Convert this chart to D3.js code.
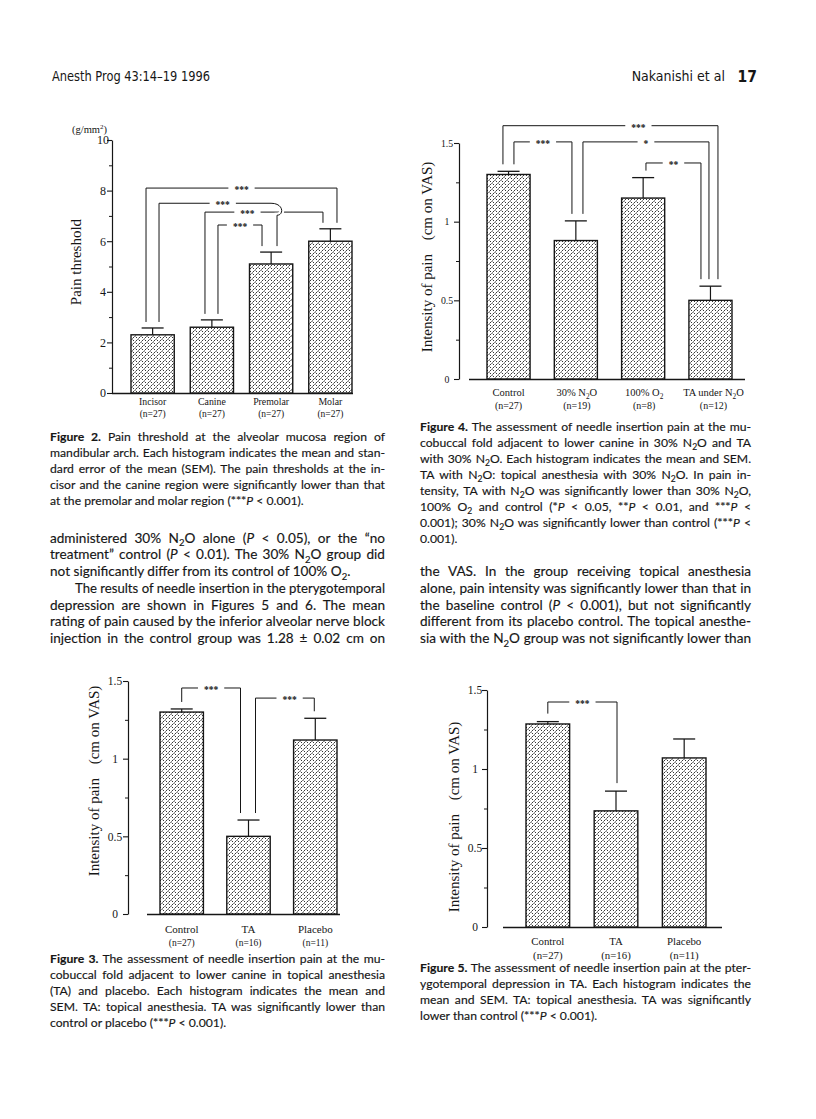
<!DOCTYPE html>
<html><head><meta charset="utf-8">
<script src="https://cdn.jsdelivr.net/npm/d3@7"></script>
<style>body{margin:0;background:#fff}svg{display:block}</style>
</head><body>
<svg id="page" width="816" height="1119"></svg>
<script>
// ---------------- DATA ----------------
const fig2Categories = ["Incisor", "Canine", "Premolar", "Molar"];
const fig2N = ["(n=27)", "(n=27)", "(n=27)", "(n=27)"];
const fig2Means = [2.3, 2.6, 5.1, 6.0];
const fig2Sems = [0.27, 0.29, 0.47, 0.49];
const fig2Ticks = [0, 2, 4, 6, 8, 10];
const fig2MinorTicks = [1, 3, 5, 7, 9];
const fig2Brackets = [
  {from: 0, to: 3, level: 8.1, label: "***"},
  {from: 1, to: 3, level: 7.15, label: "***"},
  {from: 1, to: 2, level: 6.64, label: "***"},
  {from: 0, to: 2, level: 7.5, label: "***", hop: true}
];

const fig4Categories = ["Control", "30% N_2O", "100% O_2", "TA under N_2O"];
const fig4N = ["(n=27)", "(n=19)", "(n=8)", "(n=12)"];
const fig4Means = [1.30, 0.88, 1.15, 0.50];
const fig4Sems = [0.02, 0.125, 0.13, 0.09];
const fig4Brackets = [
  {from: 0, to: 3, level: 1.61, label: "***"},
  {from: 0, to: 1, level: 1.507, label: "***"},
  {from: 1, to: 3, level: 1.507, label: "*"},
  {from: 2, to: 3, level: 1.373, label: "**"}
];

const fig3Categories = ["Control", "TA", "Placebo"];
const fig3N = ["(n=27)", "(n=16)", "(n=11)"];
const fig3Means = [1.30, 0.50, 1.12];
const fig3Sems = [0.02, 0.105, 0.14];
const fig3Brackets = [
  {from: 0, to: 1, level: 1.455, label: "***"},
  {from: 1, to: 2, level: 1.39, label: "***"}
];

const fig5Categories = ["Control", "TA", "Placebo"];
const fig5N = ["(n=27)", "(n=16)", "(n=11)"];
const fig5Means = [1.285, 0.735, 1.07];
const fig5Sems = [0.015, 0.125, 0.12];
const fig5Brackets = [
  {from: 0, to: 1, level: 1.424, label: "***"}
];

const vasTicks = [0, 0.5, 1, 1.5];
const vasMinorTicks = [0.25, 0.75, 1.25];

// ---------------- STYLE ----------------
const INK = "#161616";
const SERIF = "'Liberation Serif','Times New Roman',serif";
const SANS = "Lato,'Open Sans',sans-serif";
const COND = "'Liberation Sans Narrow','DejaVu Sans Condensed','Liberation Sans',sans-serif";

const svg = d3.select("#page");
svg.append("rect").attr("width", 816).attr("height", 1119).attr("fill", "#fff");
const defs = svg.append("defs");
const pat = defs.append("pattern").attr("id", "hatch").attr("patternUnits", "userSpaceOnUse")
  .attr("width", 6).attr("height", 6);
pat.append("rect").attr("width", 6).attr("height", 6).attr("fill", "#fff");
pat.append("path").attr("d", "M0.4,2.6 L2.6,0.4 M3.4,5.6 L5.6,3.4 M3.6,0.6 L5,2 M0.6,3.6 L2,5")
  .attr("stroke", "#1e1e1e").attr("stroke-width", 0.9).attr("fill", "none");

// rich text: ^bold^, |italic|, _2 subscript
function richText(parent, x, yb, str, font, size) {
  const t = parent.append("text").attr("x", x).attr("y", yb)
    .attr("font-family", font).attr("font-size", size).attr("fill", INK);
  const parts = str.split(/(\^[^\^]+\^|\|[^|]+\||_\d)/).filter(s => s.length);
  let pending = 0;
  const sub = size * 0.28;
  parts.forEach(p => {
    let ts;
    if (p[0] === "^" && p.length > 1) ts = t.append("tspan").attr("font-weight", "bold").text(p.slice(1, -1));
    else if (p[0] === "|" && p.length > 1) ts = t.append("tspan").attr("font-style", "italic").text(p.slice(1, -1));
    else if (/^_\d$/.test(p)) {
      ts = t.append("tspan").attr("font-size", size * 0.7).attr("dy", sub).text(p.slice(1));
      pending = -sub; return;
    } else ts = t.append("tspan").text(p);
    if (pending) { ts.attr("dy", pending); pending = 0; }
  });
  return t;
}

// ---------------- CHARTS ----------------
function drawChart(c) {
  const g = svg.append("g");
  const y = d3.scaleLinear().domain([0, c.yMax]).range([c.yBase, c.yTop]);
  const x = d3.scaleBand().domain(c.categories).range(c.barRange).paddingInner(c.padInner).paddingOuter(0);
  const bw = x.bandwidth();
  const cx = i => x(c.categories[i]) + bw / 2;

  const ax = d3.axisLeft(y).tickValues(c.ticks).tickFormat(d3.format("~g")).tickSize(5).tickSizeOuter(0);
  const ag = g.append("g").attr("transform", `translate(${c.axisX},0)`).call(ax);
  ag.select(".domain").attr("stroke", INK).attr("stroke-width", 1.2);
  ag.selectAll(".tick line").attr("stroke", INK).attr("stroke-width", 1.1);
  ag.selectAll(".tick text").attr("font-family", SERIF).attr("font-size", c.tickFont).attr("fill", INK)
    .attr("text-anchor", "middle").attr("x", -c.tickLabelOffset);
  const am = d3.axisLeft(y).tickValues(c.minorTicks).tickFormat("").tickSize(3).tickSizeOuter(0);
  const mg = g.append("g").attr("transform", `translate(${c.axisX},0)`).call(am);
  mg.select(".domain").remove();
  mg.selectAll(".tick line").attr("stroke", INK).attr("stroke-width", 1);

  g.append("line").attr("x1", c.xAxisRange[0]).attr("x2", c.xAxisRange[1])
    .attr("y1", y(0) + 0.5).attr("y2", y(0) + 0.5).attr("stroke", INK).attr("stroke-width", 1.3);

  g.selectAll("rect.bar").data(c.means).join("rect").attr("class", "bar")
    .attr("x", (d, i) => x(c.categories[i])).attr("y", d => y(d))
    .attr("width", bw).attr("height", d => y(0) - y(d))
    .attr("fill", "url(#hatch)").attr("stroke", INK).attr("stroke-width", 1.4);

  c.means.forEach((m, i) => {
    const top = y(m + c.sems[i]);
    g.append("line").attr("x1", cx(i)).attr("x2", cx(i)).attr("y1", y(m)).attr("y2", top)
      .attr("stroke", INK).attr("stroke-width", 1.2);
    g.append("line").attr("x1", cx(i) - 11).attr("x2", cx(i) + 11).attr("y1", top).attr("y2", top)
      .attr("stroke", INK).attr("stroke-width", 1.3);
  });

  c.brackets.forEach((b, k) => {
    const [o0, o1] = c.bracketOffsets[k];
    const x0 = cx(b.from) + o0, x1 = cx(b.to) + o1;
    const yl = y(b.level);
    const e0 = y(c.means[b.from] + c.sems[b.from]) - c.gap;
    const e1 = y(c.means[b.to] + c.sems[b.to]) - c.gap;
    let d;
    if (b.hop) d = `M${x0},${e0}V${yl}H${x1 - 6}C${x1 + 7},${yl} ${x1 + 7},${yl + 12} ${x1},${yl + 12}V${e1}`;
    else d = `M${x0},${e0}V${yl}H${x1}V${e1}`;
    if (b.hop) g.append("path").attr("d", d).attr("fill", "none").attr("stroke", "#fff").attr("stroke-width", 5);
    g.append("path").attr("d", d).attr("fill", "none").attr("stroke", INK).attr("stroke-width", 1);
    const lx = x0 + (x1 - x0) * c.labelPos[k];
    const t = g.append("text").attr("x", lx).attr("y", yl + 5.2).attr("text-anchor", "middle")
      .attr("font-family", SERIF).attr("font-size", 9.5).attr("font-weight", "bold").attr("fill", INK).text(b.label);
    const w = t.node().getComputedTextLength();
    g.insert("rect", () => t.node()).attr("x", lx - w / 2 - 6).attr("y", yl - 3).attr("width", w + 12)
      .attr("height", 6).attr("fill", "#fff");
  });

  c.categories.forEach((cat, i) => {
    const sx = cx(i) + (c.catShift ? c.catShift[i] : 0);
    richText(g, sx, c.catY, cat, SERIF, c.catFont).attr("text-anchor", "middle");
    richText(g, sx, c.nY, c.nLabels[i], SERIF, c.nFont).attr("text-anchor", "middle");
  });

  const yl = g.append("text").attr("transform", `translate(${c.yLabelX},${c.yLabelY}) rotate(-90)`)
    .attr("text-anchor", "middle").attr("font-family", SERIF).attr("font-size", 15).attr("fill", INK);
  yl.append("tspan").text(c.yLabel[0]);
  if (c.yLabel[1]) yl.append("tspan").attr("dx", 10).text(" " + c.yLabel[1]);
  return g;
}

// Figure 2
const g2 = drawChart({
  categories: fig2Categories, nLabels: fig2N, means: fig2Means, sems: fig2Sems,
  ticks: fig2Ticks, minorTicks: fig2MinorTicks, brackets: fig2Brackets,
  yMax: 10, yBase: 393, yTop: 140, axisX: 112, barRange: [131, 352], padInner: 0.27,
  xAxisRange: [112, 353], tickFont: 12, tickLabelOffset: 9,
  bracketOffsets: [[-6.6, 6.6], [-6.9, -7.4], [6.1, -9.1], [6.4, 5.9]],
  labelPos: [0.5, 0.36, 0.5, 0.54], gap: 6,
  catY: 404.5, nY: 417, catFont: 9.8, nFont: 9.5,
  yLabel: ["Pain threshold"], yLabelX: 81, yLabelY: 262
});
const unit = g2.append("text").attr("x", 107).attr("y", 133).attr("text-anchor", "end")
  .attr("font-family", SERIF).attr("font-size", 10.5).attr("fill", INK);
unit.append("tspan").text("(g/mm");
unit.append("tspan").attr("font-size", 7).attr("dy", -4).text("2");
unit.append("tspan").attr("dy", 4).text(")");

// Figure 4
drawChart({
  categories: fig4Categories, nLabels: fig4N, means: fig4Means, sems: fig4Sems,
  ticks: vasTicks, minorTicks: vasMinorTicks, brackets: fig4Brackets,
  yMax: 1.5, yBase: 379, yTop: 143, axisX: 459, barRange: [487, 732], padInner: 0.36,
  xAxisRange: [469, 745], tickFont: 9.8, tickLabelOffset: 12,
  bracketOffsets: [[-5.6, 7.5], [5.4, -3.9], [7.1, -1.5], [2.8, -9.5]],
  labelPos: [0.63, 0.5, 0.5, 0.5], gap: 7,
  catY: 396, nY: 408.5, catFont: 10.5, nFont: 10, catShift: [0, 1, 1, 3],
  yLabel: ["Intensity of pain", "(cm on VAS)"], yLabelX: 432, yLabelY: 257
});

// Figure 3
drawChart({
  categories: fig3Categories, nLabels: fig3N, means: fig3Means, sems: fig3Sems,
  ticks: vasTicks, minorTicks: vasMinorTicks, brackets: fig3Brackets,
  yMax: 1.5, yBase: 914, yTop: 681, axisX: 128, barRange: [160, 337], padInner: 0.35,
  xAxisRange: [147, 340], tickFont: 11.5, tickLabelOffset: 13,
  bracketOffsets: [[0, -8], [7, -1]], labelPos: [0.5, 0.58], gap: 7,
  catY: 933, nY: 945.5, catFont: 11, nFont: 9.5,
  yLabel: ["Intensity of pain", "(cm on VAS)"], yLabelX: 99, yLabelY: 781
});

// Figure 5
drawChart({
  categories: fig5Categories, nLabels: fig5N, means: fig5Means, sems: fig5Sems,
  ticks: vasTicks, minorTicks: vasMinorTicks, brackets: fig5Brackets,
  yMax: 1.5, yBase: 927, yTop: 690, axisX: 487, barRange: [526, 706], padInner: 0.36,
  xAxisRange: [503, 722], tickFont: 11.5, tickLabelOffset: 12,
  bracketOffsets: [[0, 1]], labelPos: [0.5], gap: 8,
  catY: 945, nY: 958.5, catFont: 10.8, nFont: 10.8,
  yLabel: ["Intensity of pain", "(cm on VAS)"], yLabelX: 459, yLabelY: 817
});

// ---------------- PAGE TEXT ----------------
svg.append("text").attr("x", 52).attr("y", 81).attr("font-family", COND).attr("font-size", 14)
  .attr("textLength", 158).attr("lengthAdjust", "spacingAndGlyphs")
  .attr("fill", INK).text("Anesth Prog 43:14–19 1996");
svg.append("text").attr("x", 725).attr("y", 81).attr("text-anchor", "end").attr("font-family", COND)
  .attr("font-size", 14).attr("fill", INK).text("Nakanishi et al");
svg.append("text").attr("x", 757).attr("y", 81.5).attr("text-anchor", "end").attr("font-family", COND)
  .attr("font-size", 15.5).attr("font-weight", "bold").attr("fill", INK).text("17");

const textBlocks = [
  {x0: 50, x1: 385, y: 440.5, lh: 16, size: 12.2, ragged: [4], indent: {}, lines: [
    "^Figure 2.^ Pain threshold at the alveolar mucosa region of",
    "mandibular arch. Each histogram indicates the mean and stan-",
    "dard error of the mean (SEM). The pain thresholds at the in-",
    "cisor and the canine region were significantly lower than that",
    "at the premolar and molar region (***|P| < 0.001)."]},
  {x0: 50, x1: 385, y: 542.5, lh: 16.75, size: 13.6, ragged: [2], indent: {3: 25}, lines: [
    "administered 30% N_2O alone (|P| < 0.05), or the “no",
    "treatment” control (|P| < 0.01). The 30% N_2O group did",
    "not significantly differ from its control of 100% O_2.",
    "The results of needle insertion in the pterygotemporal",
    "depression are shown in Figures 5 and 6. The mean",
    "rating of pain caused by the inferior alveolar nerve block",
    "injection in the control group was 1.28 ± 0.02 cm on"]},
  {x0: 50, x1: 385, y: 963, lh: 16, size: 12.2, ragged: [4], indent: {}, lines: [
    "^Figure 3.^ The assessment of needle insertion pain at the mu-",
    "cobuccal fold adjacent to lower canine in topical anesthesia",
    "(TA) and placebo. Each histogram indicates the mean and",
    "SEM. TA: topical anesthesia. TA was significantly lower than",
    "control or placebo (***|P| < 0.001)."]},
  {x0: 420, x1: 751, y: 431, lh: 16, size: 12.2, ragged: [7], indent: {}, lines: [
    "^Figure 4.^ The assessment of needle insertion pain at the mu-",
    "cobuccal fold adjacent to lower canine in 30% N_2O and TA",
    "with 30% N_2O. Each histogram indicates the mean and SEM.",
    "TA with N_2O: topical anesthesia with 30% N_2O. In pain in-",
    "tensity, TA with N_2O was significantly lower than 30% N_2O,",
    "100% O_2 and control (*|P| < 0.05, **|P| < 0.01, and ***|P| <",
    "0.001); 30% N_2O was significantly lower than control (***|P| <",
    "0.001)."]},
  {x0: 420, x1: 751, y: 576, lh: 16.75, size: 13.6, ragged: [], indent: {}, lines: [
    "the VAS. In the group receiving topical anesthesia",
    "alone, pain intensity was significantly lower than that in",
    "the baseline control (|P| < 0.001), but not significantly",
    "different from its placebo control. The topical anesthe-",
    "sia with the N_2O group was not significantly lower than"]},
  {x0: 420, x1: 751, y: 972, lh: 16, size: 12.2, ragged: [3], indent: {}, lines: [
    "^Figure 5.^ The assessment of needle insertion pain at the pter-",
    "ygotemporal depression in TA. Each histogram indicates the",
    "mean and SEM. TA: topical anesthesia. TA was significantly",
    "lower than control (***|P| < 0.001)."]}
];

textBlocks.forEach(b => {
  const g = svg.append("g");
  b.lines.forEach((ln, i) => {
    const x = b.x0 + (b.indent[i] || 0);
    const t = richText(g, x, b.y + i * b.lh, ln, SANS, b.size)
      .attr("stroke", INK).attr("stroke-width", 0.15);
    if (b.ragged.includes(i)) return;
    const target = b.x1 - x;
    const spaces = (ln.replace(/[\^|_]/g, "").match(/ /g) || []).length;
    const nat = t.node().getComputedTextLength();
    const ws = (target - nat) / Math.max(1, spaces);
    if (ws < -0.8) {
      t.attr("textLength", target).attr("lengthAdjust", "spacingAndGlyphs");
      return;
    }
    t.attr("word-spacing", ws);
    const after = t.node().getComputedTextLength();
    if (Math.abs(after - target) > 2) {
      t.attr("word-spacing", null).attr("textLength", target).attr("lengthAdjust", "spacing");
    }
  });
});
</script>
</body></html>
